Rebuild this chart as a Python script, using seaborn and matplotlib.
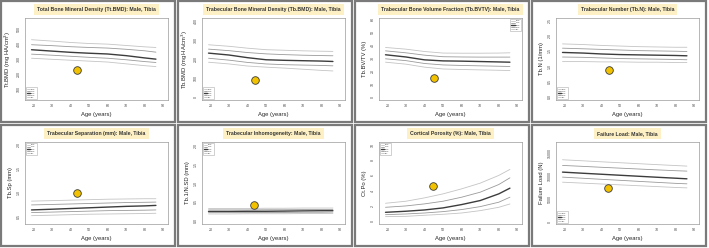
import numpy as np
import pandas as pd
import matplotlib
matplotlib.use("Agg")
import matplotlib.pyplot as plt
from matplotlib.patches import Rectangle
import seaborn as sns

ages = [19, 30, 40, 50, 60, 70, 80, 86]
pct_labels = ["95%", "75%", "50%", "25%", "5%"]

tt_bmd = {
    "95%": [427, 418, 409, 402, 398, 389, 380, 376],
    "75%": [394, 388, 381, 376, 372, 364, 354, 345],
    "50%": [361, 352, 344, 338, 333, 322, 307, 299],
    "25%": [332, 325, 318, 311, 305, 295, 283, 277],
    "5%": [305, 298, 292, 286, 280, 268, 256, 250],
}
tb_bmd = {
    "95%": [275, 267, 257, 249, 246, 243, 241, 240],
    "75%": [252, 244, 234, 227, 223, 220, 218, 217],
    "50%": [231, 221, 207, 196, 193, 191, 189, 187],
    "25%": [204, 194, 182, 174, 170, 168, 166, 164],
    "5%": [183, 174, 163, 157, 152, 146, 140, 137],
}
tb_bvtv = {
    "95%": [38.1, 36.8, 35.0, 33.8, 33.7, 33.7, 33.8, 34.0],
    "75%": [35.5, 34.0, 32.2, 31.0, 30.8, 30.7, 30.7, 30.7],
    "50%": [32.5, 30.8, 28.6, 27.8, 27.6, 27.3, 27.0, 26.8],
    "25%": [29.4, 28.0, 25.8, 24.7, 24.3, 24.0, 23.7, 23.5],
    "5%": [26.8, 25.3, 23.0, 21.6, 21.2, 20.9, 20.6, 20.4],
}
tb_n = {
    "95%": [1.73, 1.71, 1.68, 1.66, 1.64, 1.63, 1.62, 1.62],
    "75%": [1.59, 1.57, 1.55, 1.53, 1.51, 1.50, 1.49, 1.48],
    "50%": [1.45, 1.43, 1.40, 1.38, 1.37, 1.36, 1.35, 1.34],
    "25%": [1.30, 1.29, 1.27, 1.25, 1.24, 1.23, 1.22, 1.21],
    "5%": [1.15, 1.15, 1.14, 1.14, 1.13, 1.13, 1.12, 1.12],
}
tb_sp = {
    "95%": [0.82, 0.83, 0.84, 0.85, 0.86, 0.865, 0.87, 0.87],
    "75%": [0.74, 0.75, 0.76, 0.77, 0.78, 0.79, 0.795, 0.80],
    "50%": [0.635, 0.65, 0.665, 0.68, 0.695, 0.71, 0.72, 0.73],
    "25%": [0.58, 0.59, 0.60, 0.61, 0.62, 0.625, 0.63, 0.635],
    "5%": [0.515, 0.525, 0.535, 0.545, 0.55, 0.555, 0.56, 0.565],
}
tb_nsd = {
    "95%": [0.33, 0.33, 0.33, 0.335, 0.335, 0.34, 0.34, 0.34],
    "75%": [0.29, 0.29, 0.29, 0.295, 0.295, 0.30, 0.30, 0.30],
    "50%": [0.25, 0.25, 0.255, 0.255, 0.26, 0.265, 0.27, 0.27],
    "25%": [0.22, 0.22, 0.22, 0.225, 0.225, 0.23, 0.23, 0.235],
    "5%": [0.185, 0.185, 0.19, 0.19, 0.19, 0.195, 0.195, 0.20],
}
ct_po = {
    "95%": [2.33, 2.6, 3.04, 3.57, 4.23, 4.98, 6.0, 6.79],
    "75%": [1.80, 1.98, 2.25, 2.6, 3.13, 3.79, 4.8, 5.68],
    "50%": [1.14, 1.28, 1.45, 1.72, 2.16, 2.69, 3.57, 4.32],
    "25%": [0.83, 0.92, 1.05, 1.23, 1.5, 1.89, 2.47, 3.13],
    "5%": [0.57, 0.61, 0.75, 0.88, 1.05, 1.36, 1.8, 2.24],
}
fail_load = {
    "95%": [13600, 13370, 13150, 12950, 12740, 12530, 12330, 12210],
    "75%": [12360, 12150, 11950, 11760, 11570, 11380, 11200, 11110],
    "50%": [10890, 10640, 10420, 10200, 9980, 9760, 9550, 9420],
    "25%": [9790, 9540, 9310, 9090, 8860, 8640, 8420, 8320],
    "5%": [8680, 8470, 8280, 8090, 7900, 7710, 7520, 7430],
}

titles = [
    "Total Bone Mineral Density (Tt.BMD): Male, Tibia",
    "Trabecular Bone Mineral Density (Tb.BMD): Male, Tibia",
    "Trabecular Bone Volume Fraction (Tb.BVTV): Male, Tibia",
    "Trabecular Number (Tb.N): Male, Tibia",
    "Trabecular Separation (mm): Male, Tibia",
    "Trabecular Inhomogeneity: Male, Tibia",
    "Cortical Porosity (%): Male, Tibia",
    "Failure Load: Male, Tibia",
]
ylabels = [
    "Tt.BMD (mg HA/cm$^3$)",
    "Tb.BMD (mg HA/cm$^3$)",
    "Tb.BV/TV (%)",
    "Tb.N (1/mm)",
    "Tb.Sp (mm)",
    "Tb.1/N.SD (mm)",
    "Ct.Po (%)",
    "Failure Load (N)",
]
yticks = [
    [100, 200, 300, 400, 500],
    [0, 100, 200, 300, 400],
    [0, 10, 20, 30, 40, 50, 60],
    [0.0, 0.5, 1.0, 1.5, 2.0, 2.5],
    [0.5, 1.0, 1.5, 2.0],
    [0.0, 0.5, 1.0, 1.5, 2.0],
    [0, 2, 4, 6, 8, 10],
    [0, 5000, 10000, 15000],
]
ylims = [(30, 570), (-16, 416), (-2.2, 60.7), (-0.11, 2.58),
         (0.34, 2.06), (-0.08, 2.08), (-0.4, 10.4), (-500, 17500)]
subject_age = [43.5, 44, 45, 44, 43.5, 43.5, 44.5, 43.5]
subject_val = [225, 87, 15, 0.88, 0.99, 0.43, 4.67, 7430]
legend_loc = ["lower left", "lower left", "upper right", "lower left",
              "upper left", "upper left", "upper left", "lower left"]
panels = [tt_bmd, tb_bmd, tb_bvtv, tb_n, tb_sp, tb_nsd, ct_po, fail_load]

line_color = {"95%": "#c4c4c4", "75%": "#9a9a9a", "50%": "#3c3c3c",
              "25%": "#9a9a9a", "5%": "#c4c4c4"}
line_width = {"95%": 0.6, "75%": 0.6, "50%": 1.0, "25%": 0.6, "5%": 0.6}

sns.set_style("white")
plt.rcParams["font.family"] = ["Liberation Sans", "DejaVu Sans"]

W, H = 709, 248
fig = plt.figure(figsize=(W / 100, H / 100), dpi=100)

col_x = [0, 177, 354, 531]
row_y = [0, 124]

for i, data in enumerate(panels):
    r, c = divmod(i, 4)
    x0, y0 = col_x[c], row_y[r]

    # gray frame around each panel
    fig.patches.append(Rectangle((x0 + 1 / 709 * 0 + 1, H - (y0 + 122)), 174, 121,
                                 transform=None, fill=False,
                                 edgecolor="#7a7a7a", linewidth=1.6))

    ax = fig.add_axes([(x0 + 25) / W, 1 - (y0 + 100) / H, 143 / W, 82 / H])
    df = pd.DataFrame({"age": ages * 5,
                       "value": sum([data[p] for p in pct_labels], []),
                       "pct": np.repeat(pct_labels, len(ages))})
    for p in pct_labels:
        sub = df[df["pct"] == p]
        sns.lineplot(data=sub, x="age", y="value", ax=ax, color=line_color[p],
                     linewidth=line_width[p], label=p)
    sns.scatterplot(x=[subject_age[i]], y=[subject_val[i]], ax=ax, s=30,
                    color="#f2c200", edgecolor="#3a3a3a", linewidth=0.6,
                    zorder=5)

    ax.set_xlim(15.5, 92.5)
    ax.set_ylim(*ylims[i])
    ax.set_xticks([20, 30, 40, 50, 60, 70, 80, 90])
    ax.set_yticks(yticks[i])
    ax.tick_params(axis="both", labelsize=2.6, length=1.5, width=0.4,
                   pad=1.5, colors="#444444", direction="out")
    ax.tick_params(axis="y", labelrotation=90)
    for lbl in ax.get_yticklabels():
        lbl.set_va("center")
    for s in ax.spines.values():
        s.set_color("#9a9a9a")
        s.set_linewidth(0.5)
    ax.set_xlabel("Age (years)", fontsize=4.2, labelpad=2.5)
    ax.set_ylabel(ylabels[i], fontsize=4.2, labelpad=2.5)

    leg = ax.legend(loc=legend_loc[i], fontsize=1.6, handlelength=1.6,
                    handletextpad=0.4, borderpad=0.4, labelspacing=0.25,
                    frameon=True, fancybox=False, borderaxespad=0.4)
    leg.get_frame().set_edgecolor("#9a9a9a")
    leg.get_frame().set_linewidth(0.4)

    fig.text((x0 + 25 + 71.5) / W, 1 - (y0 + 9.5) / H, titles[i],
             ha="center", va="center", fontsize=3.7, fontweight="bold",
             color="#333333",
             bbox=dict(boxstyle="square,pad=0.55", facecolor="#fdf0c4",
                       edgecolor="none"))

fig.savefig("out.png", dpi=100)
